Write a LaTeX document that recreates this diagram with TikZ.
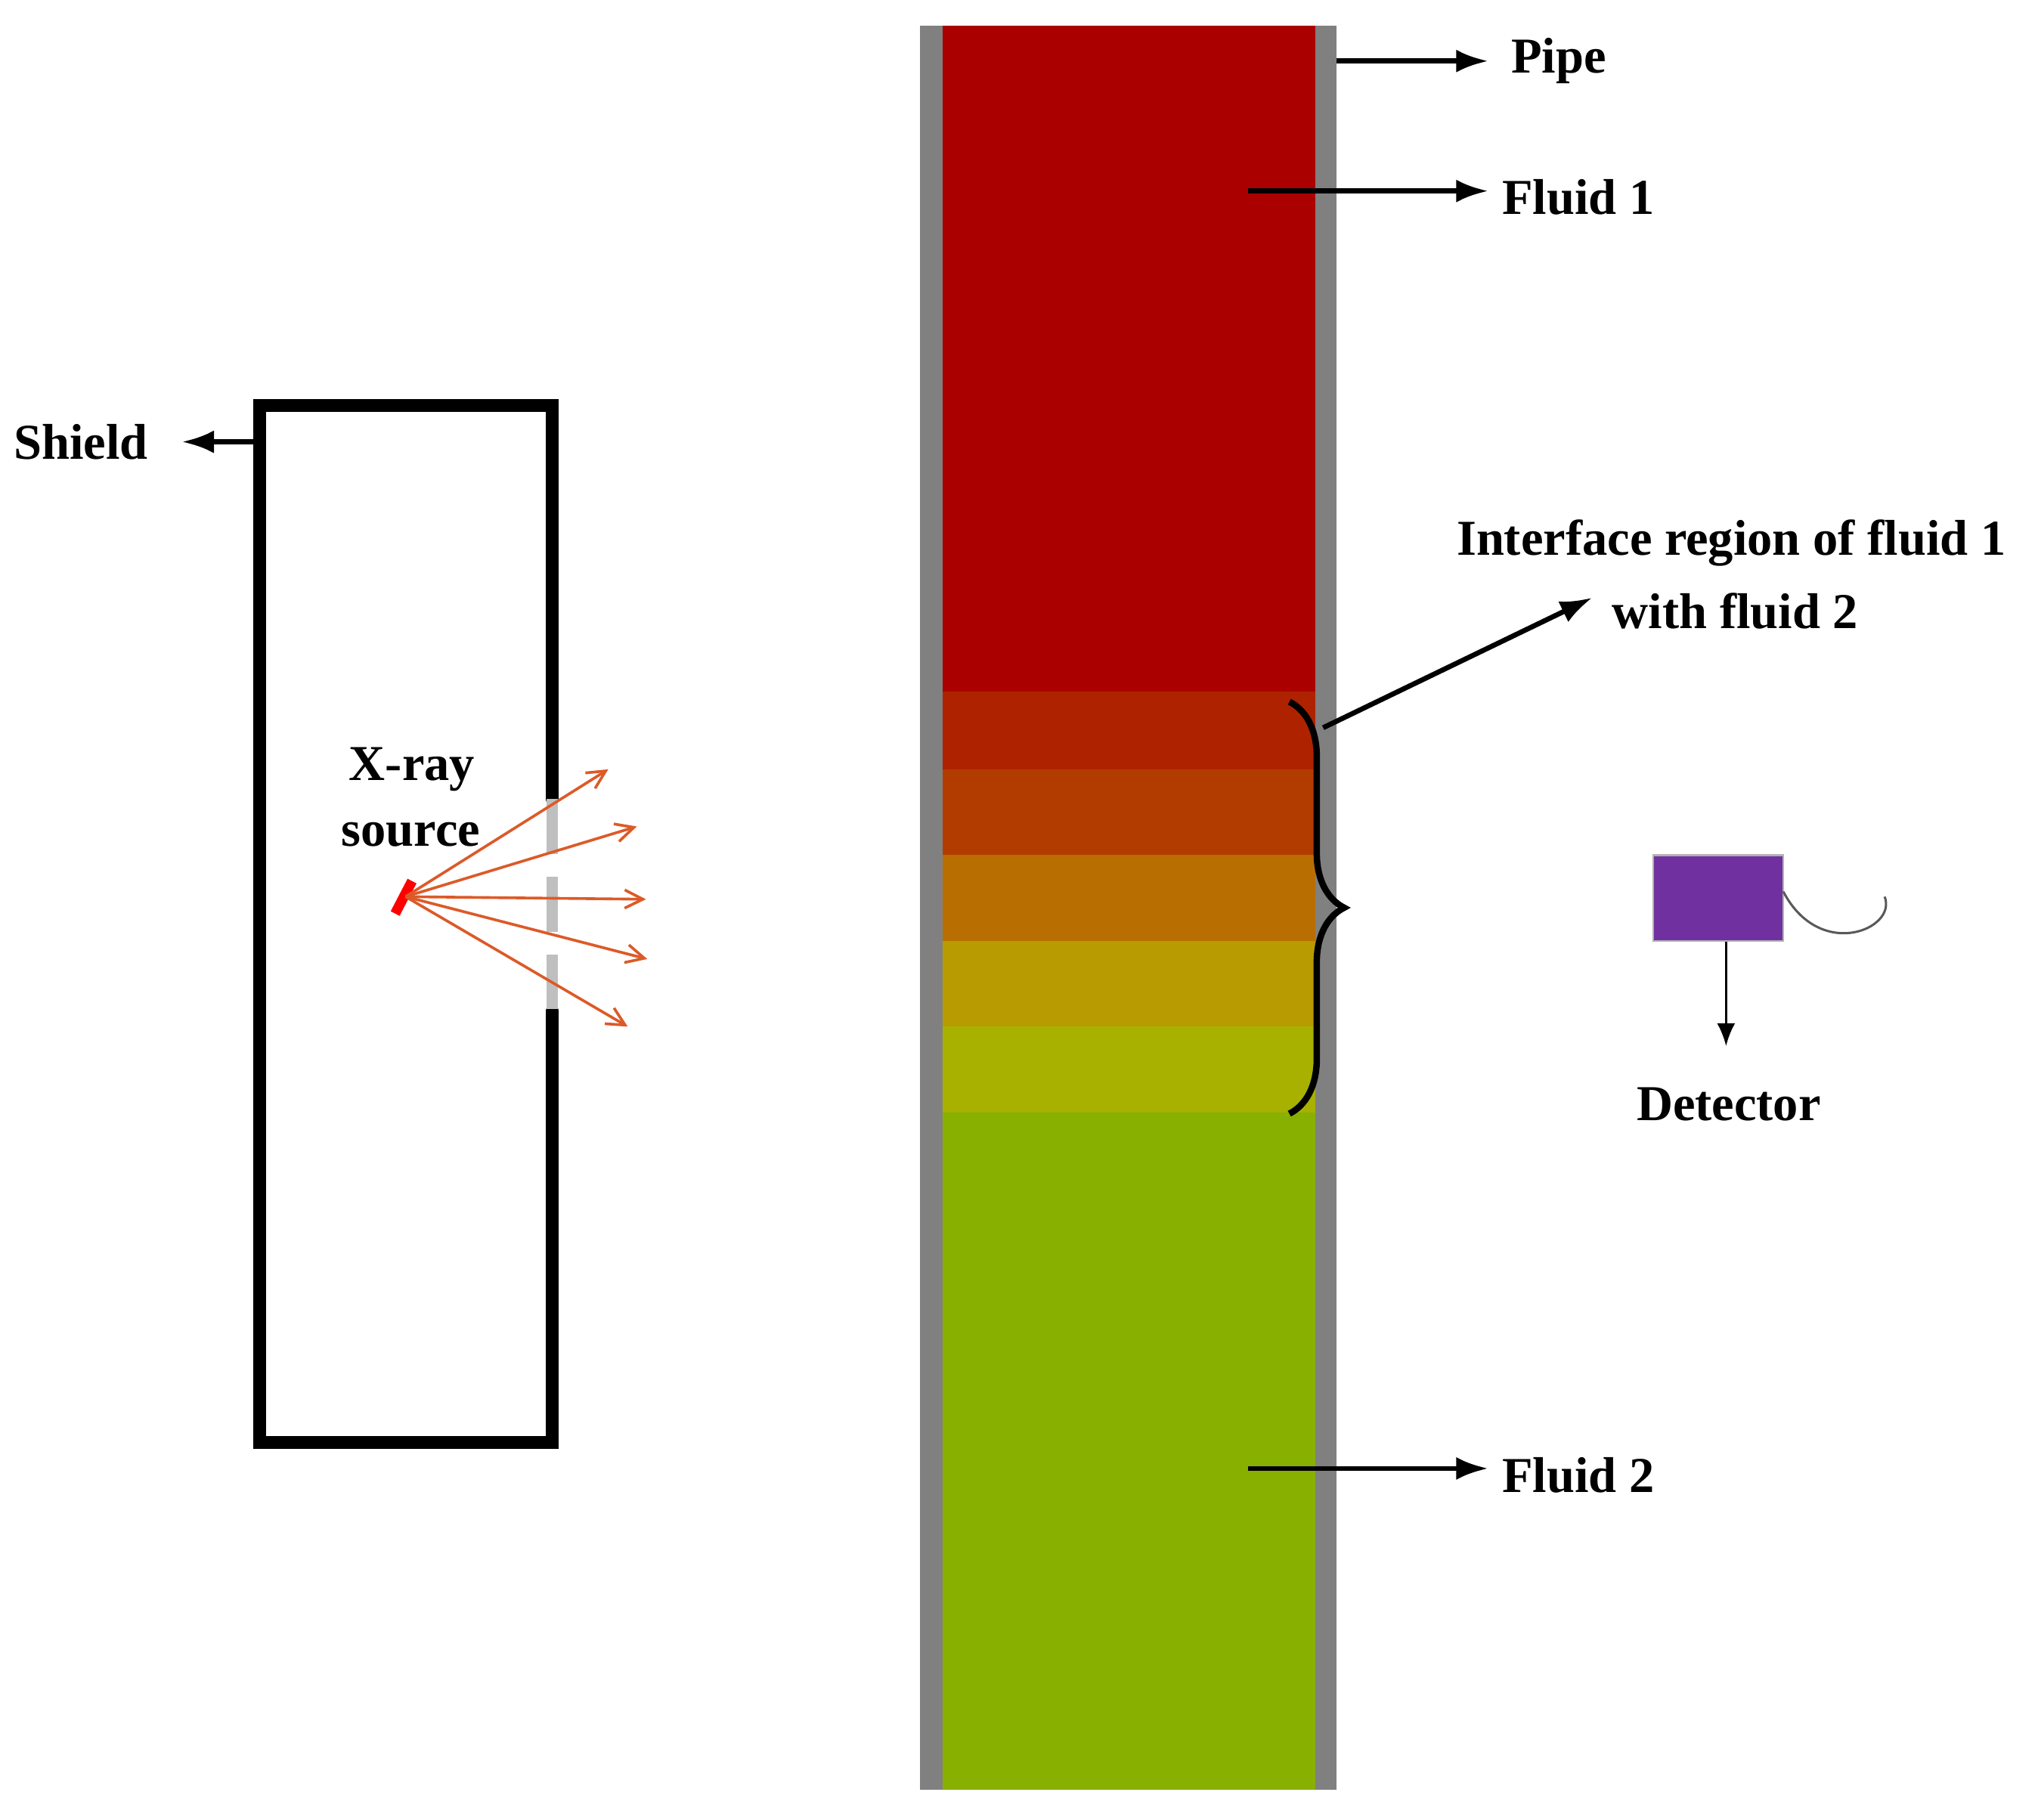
\documentclass[tikz,border=0pt]{standalone}
\usepackage{fontspec}
\setmainfont{Liberation Serif}
\usetikzlibrary{arrows.meta,decorations.pathreplacing}
\definecolor{cA}{RGB}{170,0,0}
\definecolor{cB}{RGB}{175,34,0}
\definecolor{cC}{RGB}{178,60,0}
\definecolor{cD}{RGB}{184,110,0}
\definecolor{cE}{RGB}{184,155,0}
\definecolor{cF}{RGB}{168,176,0}
\definecolor{cG}{RGB}{136,176,0}
\definecolor{purp}{RGB}{112,48,160}
\definecolor{rayc}{RGB}{220,90,40}
\begin{document}
\begin{tikzpicture}[x=0.1mm,y=-0.1mm,
  lbl/.style={font=\fontsize{11}{13}\selectfont\bfseries,inner sep=0pt},
  ptr/.style={-{Latex[length=7pt,width=5pt]},line width=1.1pt},
  ray/.style={draw=rayc,line width=0.6pt,-{Straight Barb[length=4pt,width=4pt]}},
  wall/.style={line width=2.8pt,line cap=round}]
\useasboundingbox (0,0) rectangle (1568,1400);
% pipe
\fill[gray] (708,20) rectangle (1028,1377);
\fill[cA] (725,20) rectangle (1012,532);
\fill[cB] (725,532) rectangle (1012,592);
\fill[cC] (725,592) rectangle (1012,658);
\fill[cD] (725,658) rectangle (1012,724);
\fill[cE] (725,724) rectangle (1012,790);
\fill[cF] (725,790) rectangle (1012,856);
\fill[cG] (725,856) rectangle (1012,1377);
\coordinate (pipeR) at (1028,47);
\coordinate (f1) at (960,147);
\coordinate (f2) at (960,1130);
\node[lbl,anchor=west] (pipe) at (1162,47) {Pipe};
\node[lbl,anchor=west] (fl1) at (1155,152) {Fluid 1};
\node[lbl,anchor=west] (fl2) at (1155,1135) {Fluid 2};
\draw[ptr] (pipeR) -- (1145,47);
\draw[ptr] (f1) -- (1145,147);
\draw[ptr] (f2) -- (1145,1130);
% brace
\draw[line width=1.4pt,decorate,decoration={brace,amplitude=12pt}] (992,540) -- (992,857);
\coordinate (br) at (1018,560);
\node[lbl] (int1) at (1332,418) {Interface region of fluid 1};
\node[lbl] (int2) at (1335,470) {with fluid 2};
\draw[ptr] (br) -- (1225,460);
% detector
\node[draw=gray!60,fill=purp,minimum width=10mm,minimum height=6.6mm,inner sep=0pt] (det) at (1322,691) {};
\draw[gray!70!black,line width=0.5pt] (1372,686) .. controls (1400,740) and (1460,715) .. (1450,690);
\node[lbl] (detl) at (1330,850) {Detector};
\draw[-{Latex[length=5pt,width=4pt]},line width=0.6pt] (det.south) ++(6,0) -- (1328,805);
% shield
\draw[wall] (425,615) -- (425,312) -- (200,312) -- (200,1110) -- (425,1110) -- (425,778);
\draw[gray!50,line width=2.5pt,dash pattern=on 12pt off 5pt] (425,615) -- (425,778);
\coordinate (sh) at (205,340);
\node[lbl,anchor=west] (shl) at (10,340) {Shield};
\draw[ptr] (sh) -- (140,340);
% x-ray
\node[lbl] (xr1) at (317,592) {X-ray};
\node[lbl] (xr2) at (316,642) {source};
\draw[red,line width=2.2pt] (304,703) -- (317,678);
\coordinate (src) at (312,690);
\foreach \x/\y in {468/592,490/636,497/692,498/738,483/790}
  \draw[ray] (src) -- (\x,\y);
\end{tikzpicture}
\end{document}
